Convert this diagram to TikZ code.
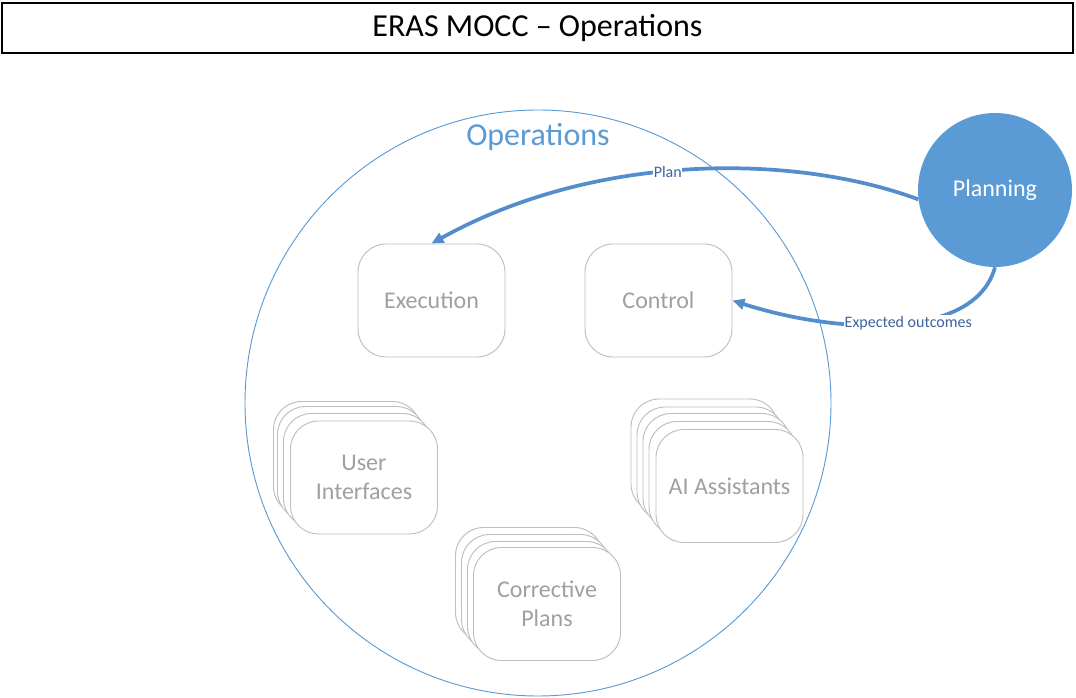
\documentclass[tikz,border=0pt]{standalone}
\usepackage{fontspec}
\setmainfont{Carlito}
\usetikzlibrary{arrows.meta}
\definecolor{opblue}{RGB}{91,155,213}
\definecolor{arrowblue}{RGB}{84,141,204}
\definecolor{labelblue}{RGB}{60,100,160}
\definecolor{boxgray}{RGB}{190,190,190}
\definecolor{textgray}{RGB}{160,160,160}
\tikzset{
  rbox/.style={draw=boxgray, line width=0.7pt, fill=white, rounded corners=21pt,
    minimum width=110.25pt, minimum height=84.75pt, text=textgray,
    align=center, font=\fontsize{18}{22}\selectfont, inner sep=0pt},
  flow/.style={draw=arrowblue, line width=2.8pt, -{Triangle[length=9pt,width=8pt]}},
  lbl/.style={fill=white, inner sep=0.5pt, text=labelblue, font=\fontsize{12}{14}\selectfont}
}
\begin{document}
\begin{tikzpicture}[x=0.75pt,y=-0.75pt]
\useasboundingbox (0,0) rectangle (1076,698);
% title
\node[draw=black, line width=0.8pt, minimum width=1071*0.75pt, minimum height=50*0.75pt,
  inner sep=0pt, font=\fontsize{24}{28}\selectfont] (title) at (537.5,28) {\raisebox{-2pt}{ERAS MOCC -- Operations}};
% operations circle
\node[draw=opblue, line width=0.7pt, circle, minimum size=586*0.75pt, inner sep=0pt] (ops) at (538,403) {};
\node[text=opblue, font=\fontsize{24}{28}\selectfont] (opslabel) at (538,137) {Operations};
% planning
\node[circle, fill=opblue, minimum size=154*0.75pt, inner sep=0pt, text=white,
  font=\fontsize{18}{22}\selectfont] (plan) at (995,190) {Planning};
% execution and control
\node[rbox] (exec) at (431.5,300.5) {Execution};
\node[rbox] (ctrl) at (658.5,300.5) {Control};
% user interfaces stack
\node[rbox] (ui3) at (347,458) {};
\node[rbox] (ui2) at (351,463) {};
\node[rbox] (ui1) at (357,470) {};
\node[rbox] (ui) at (364,477.5) {User\\Interfaces};
% AI assistants stack
\node[rbox] (ai4) at (704.5,455.5) {};
\node[rbox] (ai3) at (710.5,463.5) {};
\node[rbox] (ai2) at (716.5,470) {};
\node[rbox] (ai1) at (722.5,478) {};
\node[rbox] (ai) at (729.5,486) {AI Assistants};
% corrective plans stack
\node[rbox] (cp3) at (529,584) {};
\node[rbox] (cp2) at (535,591) {};
\node[rbox] (cp1) at (541,598) {};
\node[rbox] (cp) at (547,604) {Corrective\\Plans};
% connectors
\draw[flow] (plan.187) .. controls (800,155) and (600,150) .. (exec.north)
  node[lbl, pos=0.55] (planlbl) {Plan};
\draw[flow] (plan.south) .. controls (975,340) and (840,335) .. (ctrl.east)
  node[lbl, pos=0.46] (explbl) {Expected outcomes};
\end{tikzpicture}
\end{document}
